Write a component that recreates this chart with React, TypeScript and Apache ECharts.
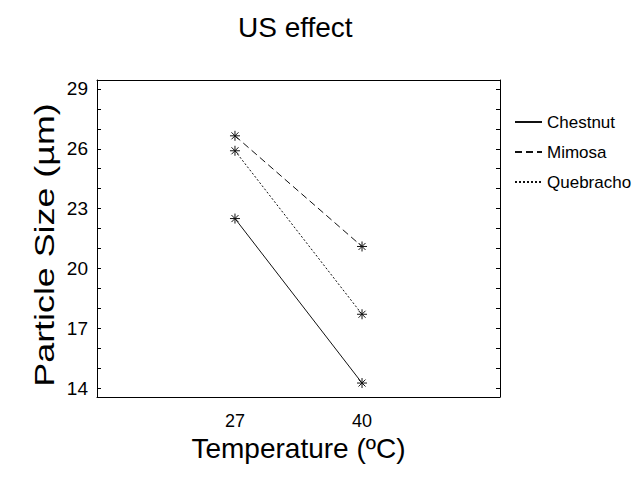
import React, { useEffect, useRef } from "react";
import * as echarts from "echarts";

const temperatures = [27, 40];
const chestnut = [22.5, 14.25];
const mimosa = [26.65, 21.1];
const quebracho = [25.9, 17.7];
const yTickValues = [14, 15, 16, 17, 18, 19, 20, 21, 22, 23, 24, 25, 26, 27, 28, 29];
const yLabelValues = [14, 17, 20, 23, 26, 29];

const FONT = "Liberation Sans, Arial, sans-serif";
const INK = "#111";
const ASTERISK = "path://M5,0L5,10M0,5L10,5M1.5,1.5L8.5,8.5M1.5,8.5L8.5,1.5";

export default function App() {
  const ref = useRef<HTMLDivElement>(null);

  useEffect(() => {
    if (!ref.current) return;
    const chart = echarts.init(ref.current, undefined, { renderer: "svg" });

    const mk = (name: string, vals: number[], type: any) => ({
      name,
      type: "line",
      data: temperatures.map((t, i) => [t, vals[i]]),
      color: INK,
      symbol: ASTERISK,
      symbolSize: 10,
      itemStyle: { color: "transparent", borderColor: INK, borderWidth: 1 },
      lineStyle: { color: INK, width: 1, type },
      emphasis: { disabled: true },
    });

    chart.setOption({
      animation: false,
      backgroundColor: "#fff",
      title: {
        text: "US effect",
        left: 238,
        top: 13,
        padding: 0,
        textStyle: { fontSize: 28, fontWeight: "normal", color: "#000", fontFamily: FONT },
      },
      legend: {
        orient: "vertical",
        left: 514,
        top: 112,
        itemWidth: 27,
        itemHeight: 14,
        itemGap: 10,
        padding: 0,
        itemStyle: { opacity: 0 },
        textStyle: { fontSize: 17, lineHeight: 20, color: "#000", fontFamily: FONT },
        data: ["Chestnut", "Mimosa", "Quebracho"],
      },
      grid: { left: 97, right: 133, top: 80, bottom: 82, containLabel: false, outerBoundsMode: "none" },
      xAxis: [
        {
          type: "value",
          min: 12.88,
          max: 54.12,
          position: "bottom",
          axisLine: { show: true, lineStyle: { color: "#000", width: 1 } },
          axisTick: { show: false },
          splitLine: { show: false },
          axisLabel: {
            customValues: temperatures,
            fontSize: 18,
            color: "#000",
            fontFamily: FONT,
            margin: 15,
          },
          name: "Temperature (ºC)",
          nameLocation: "middle",
          nameGap: 30,
          nameTextStyle: { fontSize: 28, color: "#000", fontFamily: FONT },
        },
        {
          type: "value",
          min: 12.88,
          max: 54.12,
          position: "top",
          axisLine: { show: true, onZero: false, lineStyle: { color: "#000", width: 1 } },
          axisTick: { show: false },
          splitLine: { show: false },
          axisLabel: { show: false },
        },
      ],
      yAxis: [
        {
          type: "value",
          min: 13.55,
          max: 29.45,
          position: "left",
          axisLine: { show: true, onZero: false, lineStyle: { color: "#000", width: 1 } },
          axisTick: { show: true, inside: true, length: 4, customValues: yTickValues, lineStyle: { color: "#000" } },
          splitLine: { show: false },
          axisLabel: {
            customValues: yLabelValues,
            fontSize: 19,
            color: "#000",
            fontFamily: FONT,
            margin: 9,
          },
        },
        {
          type: "value",
          min: 13.55,
          max: 29.45,
          position: "right",
          axisLine: { show: true, onZero: false, lineStyle: { color: "#000", width: 1 } },
          axisTick: { show: true, inside: true, length: 4, customValues: yTickValues, lineStyle: { color: "#000" } },
          splitLine: { show: false },
          axisLabel: { show: false },
        },
      ],
      graphic: [
        {
          type: "text",
          x: 44,
          y: 245,
          rotation: Math.PI / 2,
          scaleX: 1.28,
          style: {
            text: "Particle Size (µm)",
            fontSize: 28,
            fontFamily: FONT,
            fill: "#000",
            align: "center",
            verticalAlign: "middle",
          },
        },
      ],
      series: [
        mk("Chestnut", chestnut, "solid"),
        mk("Mimosa", mimosa, [7, 4]),
        mk("Quebracho", quebracho, [2, 2]),
      ],
    });

    return () => chart.dispose();
  }, []);

  return <div ref={ref} style={{ position: "fixed", left: 0, top: 0, width: 633, height: 479 }} />;
}
